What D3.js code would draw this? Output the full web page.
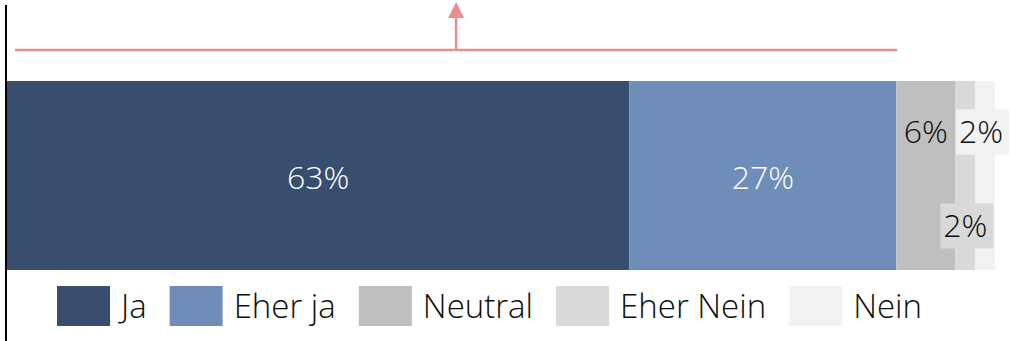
<!DOCTYPE html>
<html>
<head>
<meta charset="utf-8">
<script src="https://cdn.jsdelivr.net/npm/d3@7"></script>
<style>
  body { margin: 0; background: #fff; }
  svg { display: block; font-family: "Open Sans", "Segoe UI", sans-serif; font-weight: 300; }
</style>
</head>
<body>
<script>
var categories = ["Ja", "Eher ja", "Neutral", "Eher Nein", "Nein"];
var values = [63, 27, 6, 2, 2];
var colors = ["#374e6e", "#6e8db9", "#bfbfbf", "#d9d9d9", "#f2f2f2"];
var labelColors = ["#fff", "#fff", "#0d0d0d", "#0d0d0d", "#0d0d0d"];
// label placement like the original: centre, upper or lower, with a backing box for the tiny ones
var labelPos = ["mid", "mid", "top", "bottom", "top"];
var labelBox = [false, false, false, true, true];
var bracketTo = 90; // Ja + Eher ja

var WIDTH = 1010,
    HEIGHT = 341;

var svg = d3.select("body").append("svg")
    .attr("width", WIDTH)
    .attr("height", HEIGHT);

var x = d3.scaleLinear().domain([0, 100]).range([7, 995]);
var y = d3.scaleBand().domain(["q"]).range([81, 270]);

var stack = [];
var acc = 0;
values.forEach(function(v, i){
  stack.push({cat: categories[i], v: v, x0: acc, x1: acc + v, i: i});
  acc += v;
});

svg.selectAll("rect.seg")
  .data(stack)
  .enter().append("rect")
    .attr("class", "seg")
    .attr("x", function(d){ return x(d.x0); })
    .attr("y", y("q"))
    .attr("width", function(d){ return x(d.x1) - x(d.x0); })
    .attr("height", y.bandwidth())
    .style("fill", function(d){ return colors[d.i]; });

// axis line
svg.append("line")
  .attr("x1", 6).attr("x2", 6)
  .attr("y1", 5).attr("y2", HEIGHT)
  .style("stroke", "#000")
  .style("stroke-width", 2);

// data labels
var yMid = y("q") + y.bandwidth() / 2;
var labelY = function(d){
  if (labelPos[d.i] == "top") return yMid - 44;
  if (labelPos[d.i] == "bottom") return yMid + 50;
  return yMid + 2;
};
var labelX = function(d){
  var cx = (x(d.x0) + x(d.x1)) / 2;
  if (d.i == 4) cx = 981;        // pushed right to stay inside the window
  return cx;
};

var labels = svg.selectAll("g.lbl")
  .data(stack)
  .enter().append("g")
    .attr("class", "lbl")
    .attr("transform", function(d){ return "translate(" + labelX(d) + "," + labelY(d) + ")"; });

labels.filter(function(d){ return labelBox[d.i]; })
  .append("rect")
    .attr("x", -25).attr("y", -22)
    .attr("width", 53).attr("height", 45)
    .style("fill", function(d){ return colors[d.i]; });

labels.append("text")
  .attr("text-anchor", "middle")
  .attr("dy", "0.35em")
  .style("font-size", "32px")
  .style("fill", function(d){ return labelColors[d.i]; })
  .text(function(d){ return d.v + "%"; });

// bracket with arrow over Ja + Eher ja
var red = "#e68f8f";
var bx0 = x(0) + 8, bx1 = x(bracketTo) + 1, bmid = (bx0 + bx1) / 2;
svg.append("line")
  .attr("x1", bx0).attr("x2", bx1)
  .attr("y1", 50).attr("y2", 50)
  .style("stroke", red).style("stroke-width", 2.5);
svg.append("line")
  .attr("x1", bmid).attr("x2", bmid)
  .attr("y1", 50).attr("y2", 17)
  .style("stroke", red).style("stroke-width", 2.5);
svg.append("path")
  .attr("d", "M" + (bmid - 8) + ",18L" + bmid + ",2L" + (bmid + 8) + ",18Z")
  .style("fill", red);

// legend
var legend = svg.append("g");
var lx = 57;
categories.forEach(function(c, i){
  var g = legend.append("g").attr("transform", "translate(" + lx + ",286)");
  g.append("rect")
    .attr("width", 53).attr("height", 40)
    .style("fill", colors[i]);
  var t = g.append("text")
    .attr("x", 64).attr("y", 20)
    .attr("dy", "0.35em")
    .style("font-size", "33px")
    .style("fill", "#0d0d0d")
    .text(c);
  lx += 64 + t.node().getComputedTextLength() + 23;
});
</script>
</body>
</html>
